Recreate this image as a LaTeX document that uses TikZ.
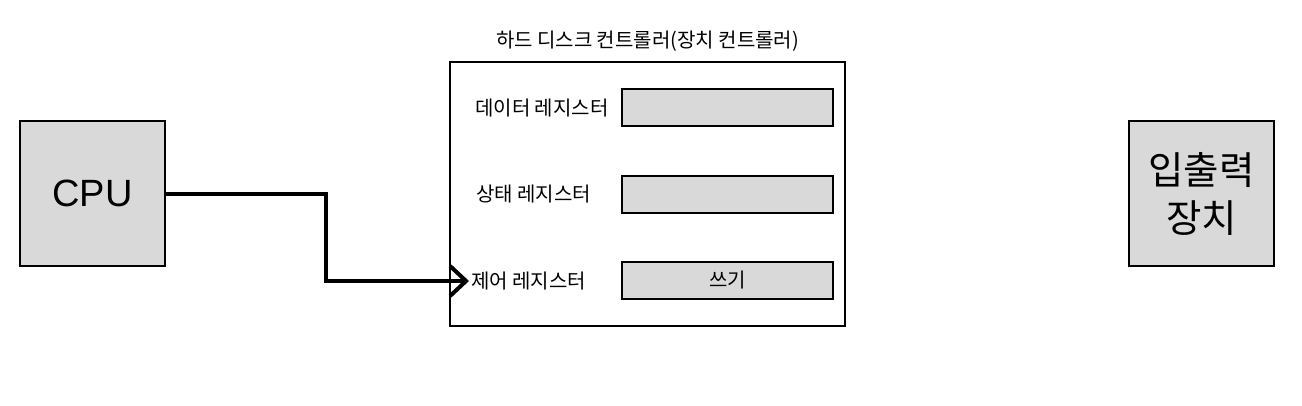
\documentclass[tikz,border=0pt]{standalone}
\usepackage{fontspec}
\setmainfont{Liberation Sans}
\newfontfamily\kr{Noto Sans CJK KR}
\usetikzlibrary{positioning,arrows.meta}
\tikzset{
  blok/.style={draw=black,fill=gray!30,line width=2pt,inner sep=0pt,minimum width=145pt,minimum height=145pt},
  registr/.style={draw=black,fill=gray!30,line width=2pt,inner sep=0pt,minimum width=211pt,minimum height=37pt,font=\kr\fontsize{20}{24}\selectfont},
  popis/.style={anchor=west,inner sep=2pt,font=\kr\fontsize{20}{24}\selectfont},
  sip/.style={-{Straight Barb[length=16pt,width=30pt]},line width=4pt},
}
\begin{document}
\begin{tikzpicture}[x=1pt,y=-1pt]
  \useasboundingbox (0,0) rectangle (1302,405);
  \node[blok,font=\fontsize{38}{42}\selectfont] (cpu) at (92.5,193.5) {CPU};
  \node[blok,align=center,font=\kr\fontsize{38.5}{48}\selectfont] (io) at (1201.5,193.5) {입출력\\장치};
  \node[draw=black,line width=2pt,minimum width=395pt,minimum height=264pt,inner sep=0pt] (hdc) at (647.5,194) {};
  \node[font=\kr\fontsize{20}{24}\selectfont,inner sep=0pt] (nazev) [above=9pt of hdc] {하드 디스크 컨트롤러(장치 컨트롤러)};
  \node[popis] (dataL) at (473,108) {데이터 레지스터};
  \node[popis] (stavL) at (474,194) {상태 레지스터};
  \node[popis] (ridL) at (469,281) {제어 레지스터};
  \node[registr] (dataR) at (727.5,107.5) {};
  \node[registr] (stavR) at (727.5,194) {};
  \node[registr] (ridR) at (727.5,280.5) {쓰기};
  \draw[sip] (cpu.east) -- ++(160,0) |- (ridL.west);
\end{tikzpicture}
\end{document}
